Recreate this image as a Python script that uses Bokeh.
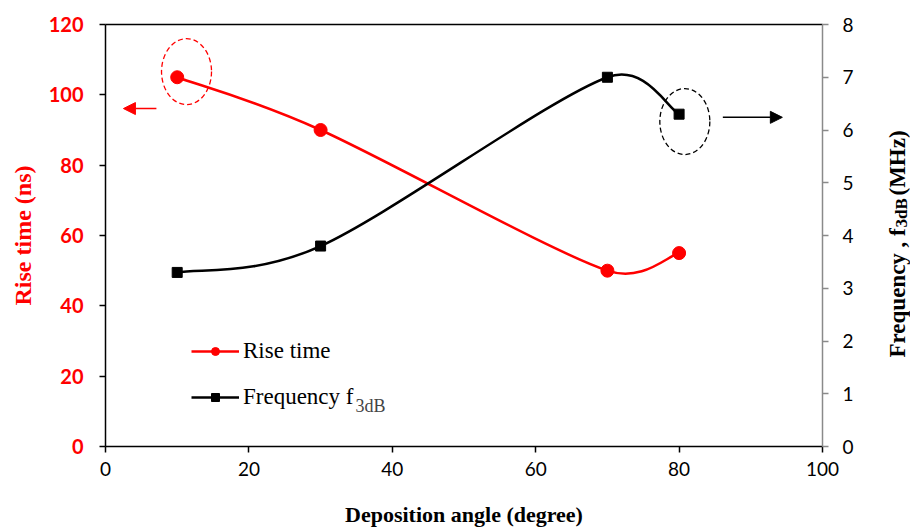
import math

from bokeh.core.properties import value
from bokeh.embed import file_html
from bokeh.layouts import row
from bokeh.models import (Arrow, FixedTicker, Label, Legend, LegendItem,
                          LinearAxis, NormalHead, Range1d)
from bokeh.plotting import figure
from bokeh.resources import INLINE

# Measured values
angle = [10, 30, 70, 80]            # deposition angle (degree)
rise_time = [105, 90, 50, 55]       # rise time (ns)
freq_3db = [3.3, 3.8, 7.0, 6.3]     # f3dB (MHz)

x_ticks = [0, 20, 40, 60, 80, 100]
left_ticks = [0, 20, 40, 60, 80, 100, 120]
right_ticks = [0, 1, 2, 3, 4, 5, 6, 7, 8]

# Page geometry: main chart plus a narrow strip for the right-hand title
W, H = 910, 529
SIDE_W = 40
W_MAIN = W - SIDE_W
BL, BR, BT, BB = 105, 48, 24, 83
FW = W_MAIN - BL - BR
FH = H - BT - BB

X_MAX, YL_MAX, YR_MAX = 100, 120, 8
SX = FW / X_MAX
SYL = FH / YL_MAX
SYR = FH / YR_MAX

RED = "#FF0000"
SERIF = "Liberation Serif"
SANS = "Lato"


def smooth_segments(xs, ys, sx, sy):
    """Bezier control points for a spreadsheet-style smoothed line.

    Tangents follow the neighbouring points (tension 1/6); the handle length is
    capped at half the segment length, measured in pixels.
    """
    pts = [(x * sx, y * sy) for x, y in zip(xs, ys)]
    n = len(pts)
    out = {k: [] for k in ("x0", "y0", "x1", "y1", "cx0", "cy0", "cx1", "cy1")}

    def dist(a, b):
        return math.hypot(b[0] - a[0], b[1] - a[1])

    for i in range(n - 1):
        p0 = pts[i - 1] if i > 0 else pts[i]
        p1 = pts[i]
        p2 = pts[i + 1]
        p3 = pts[i + 2] if i + 2 < n else pts[i + 1]
        d12 = dist(p1, p2)
        d02 = dist(p0, p2)
        d13 = dist(p1, p3)
        f1 = min(1 / 6, d12 / (2 * d02)) if d02 > 0 else 0
        f2 = min(1 / 6, d12 / (2 * d13)) if d13 > 0 else 0
        c1 = (p1[0] + f1 * (p2[0] - p0[0]), p1[1] + f1 * (p2[1] - p0[1]))
        c2 = (p2[0] - f2 * (p3[0] - p1[0]), p2[1] - f2 * (p3[1] - p1[1]))
        out["x0"].append(p1[0] / sx)
        out["y0"].append(p1[1] / sy)
        out["x1"].append(p2[0] / sx)
        out["y1"].append(p2[1] / sy)
        out["cx0"].append(c1[0] / sx)
        out["cy0"].append(c1[1] / sy)
        out["cx1"].append(c2[0] / sx)
        out["cy1"].append(c2[1] / sy)
    return out


p = figure(
    width=W_MAIN, height=H,
    x_range=Range1d(0, X_MAX), y_range=Range1d(0, YL_MAX),
    output_backend="svg", toolbar_location=None,
    min_border_left=BL, min_border_right=BR,
    min_border_top=BT, min_border_bottom=BB,
    x_axis_location="below", y_axis_location="left",
)
p.extra_y_ranges = {"right": Range1d(0, YR_MAX)}
p.xgrid.visible = False
p.ygrid.visible = False
p.outline_line_color = None
p.background_fill_color = "white"
p.border_fill_color = "white"


def style_ticks(ax, line_color):
    ax.axis_line_color = line_color
    ax.axis_line_width = 1.5
    ax.major_tick_line_color = line_color
    ax.major_tick_line_width = 1.5
    ax.major_tick_in = 0
    ax.major_tick_out = 6
    ax.minor_tick_line_color = None


# Bottom axis
xa = p.xaxis[0]
xa.ticker = FixedTicker(ticks=x_ticks)
xa.axis_label = "Deposition angle (degree)"
xa.axis_label_text_font = SERIF
xa.axis_label_text_font_style = "bold"
xa.axis_label_text_font_size = "22px"
xa.axis_label_text_color = "black"
xa.axis_label_standoff = 23
xa.major_label_text_font = SANS
xa.major_label_text_font_size = "19px"
xa.major_label_text_color = "black"
xa.major_label_standoff = 9
style_ticks(xa, "black")

# Left axis (rise time)
ya = p.yaxis[0]
ya.ticker = FixedTicker(ticks=left_ticks)
ya.axis_label = "Rise time (ns)"
ya.axis_label_text_font = SERIF
ya.axis_label_text_font_style = "bold"
ya.axis_label_text_font_size = "24px"
ya.axis_label_text_color = RED
ya.axis_label_standoff = 10
ya.major_label_text_font = SANS
ya.major_label_text_font_style = "bold"
ya.major_label_text_font_size = "20px"
ya.major_label_text_color = RED
ya.major_label_standoff = 16
style_ticks(ya, "black")

# Right axis (frequency)
ra = LinearAxis(y_range_name="right", ticker=FixedTicker(ticks=right_ticks))
ra.major_label_text_font = SANS
ra.major_label_text_font_size = "19px"
ra.major_label_text_color = "black"
ra.major_label_standoff = 14
style_ticks(ra, "#8a8a8a")
p.add_layout(ra, "right")

# Top border of the plot area
top = LinearAxis(ticker=FixedTicker(ticks=[]))
top.major_label_text_font_size = "0px"
top.axis_line_color = "black"
top.axis_line_width = 1.5
top.major_tick_line_color = None
top.minor_tick_line_color = None
p.add_layout(top, "above")

# Smoothed curves
rs = smooth_segments(angle, rise_time, SX, SYL)
p.bezier(x0="x0", y0="y0", x1="x1", y1="y1", cx0="cx0", cy0="cy0",
         cx1="cx1", cy1="cy1", source=rs, line_color=RED, line_width=2.5)
fs = smooth_segments(angle, freq_3db, SX, SYR)
p.bezier(x0="x0", y0="y0", x1="x1", y1="y1", cx0="cx0", cy0="cy0",
         cx1="cx1", cy1="cy1", source=fs, line_color="black", line_width=2.5,
         y_range_name="right")

rise_pts = p.scatter(angle, rise_time, marker="circle", size=13,
                     fill_color=RED, line_color=RED)
freq_pts = p.scatter(angle, freq_3db, marker="square", size=10,
                     fill_color="black", line_color="black",
                     y_range_name="right")

# Hidden line renderers that supply the legend's line samples
rise_line = p.line(angle, rise_time, line_color=RED, line_width=2.5,
                   visible=False)
freq_line = p.line(angle, freq_3db, line_color="black", line_width=2.5,
                   y_range_name="right", visible=False)

legend = Legend(
    items=[LegendItem(label="Rise time", renderers=[rise_line, rise_pts]),
           LegendItem(label="Frequency f", renderers=[freq_line, freq_pts])],
    location=(86, 36),
    border_line_color=None, background_fill_alpha=0,
    label_text_font=SERIF, label_text_font_size="23px",
    label_text_color="black",
    glyph_width=48, glyph_height=20, label_height=20, spacing=20,
    padding=0, margin=0, label_standoff=4,
)
p.add_layout(legend, "center")


def px_to_x(px):
    return (px - BL) / SX


def py_to_yl(py):
    return (BT + FH - py) / SYL


p.add_layout(Label(x=px_to_x(355), y=py_to_yl(405), text="3dB",
                   text_font=SERIF, text_font_size="18px",
                   text_baseline="middle", text_align="left"))

# Highlight ellipses around the first rise time and last frequency points
p.ellipse(x=[angle[0] + 1.3], y=[rise_time[0] + 1.6], width=50, height=66,
          width_units="screen", height_units="screen", fill_color=None,
          line_color=RED, line_width=1.3, line_dash="5 3")
p.ellipse(x=[angle[-1] + 0.8], y=[freq_3db[-1] - 0.14], width=50, height=66,
          width_units="screen", height_units="screen", fill_color=None,
          line_color="black", line_width=1.3, line_dash="5 3",
          y_range_name="right")

# Arrows pointing to each series' axis
p.add_layout(Arrow(end=NormalHead(size=12, fill_color=RED, line_color=RED),
                   x_start=7.1, y_start=96.1, x_end=2.5, y_end=96.1,
                   line_color=RED, line_width=1.5))
p.add_layout(Arrow(end=NormalHead(size=12, fill_color="black", line_color="black"),
                   x_start=86.1, y_start=6.24, x_end=94.4, y_end=6.24,
                   line_color="black", line_width=1.5, y_range_name="right"))

# Right-hand axis title (with subscript) in a narrow strip. The strip's frame
# lines up with the main frame in the row, so its y range is given in page
# pixels measured from the top.
side = figure(width=SIDE_W, height=H, x_range=Range1d(0, SIDE_W),
              y_range=Range1d(BT + FH, BT), output_backend="svg",
              toolbar_location=None, x_axis_location=None,
              y_axis_location=None, min_border_left=0, min_border_right=0,
              min_border_top=0, min_border_bottom=0)
side.grid.visible = False
side.outline_line_color = None
side.border_fill_color = "white"

title_cx = 897 - W_MAIN
for txt, size, start_py, dx in [("Frequency , f", "23px", 357, 0),
                                ("3dB", "17px", 227, 4),
                                ("(MHz)", "23px", 195, 0)]:
    side.text(x=[title_cx + dx], y=[start_py], text=[txt],
              angle=math.pi / 2, text_font=value(SERIF),
              text_font_style="bold", text_font_size=value(size),
              text_color="black", text_baseline="middle", text_align="left")

layout = row(p, side, spacing=0)
open("out.html", "w").write(file_html(layout, INLINE))
